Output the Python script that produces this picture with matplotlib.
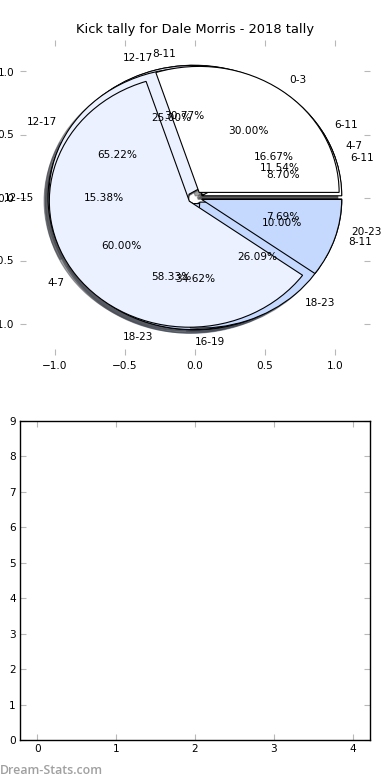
import matplotlib
matplotlib.use('Agg')
import matplotlib.pyplot as plt

title = 'Kick tally for Dale Morris - 2018 tally'

# four tallies, drawn one over the other (the last one ends up on top)
labels_d = ['4-7', '8-11', '12-15', '16-19', '20-23']
kicks_d = [3, 8, 4, 9, 2]

labels_c = ['6-11', '12-17', '18-23']
kicks_c = [2, 3, 7]

labels_b = ['6-11', '12-17', '18-23']
kicks_b = [2, 15, 6]

labels_a = ['0-3', '4-7', '8-11']
kicks_a = [3, 6, 1]

pie_colors = ['#FFFFFF', '#EBF1FF', '#C5D9FF', '#A9C7FF', '#8CB4FF']

fs = 7.6
tick_col = '#b8b8b8'

fig = plt.figure(figsize=(3.9, 7.8), dpi=100)

ax = fig.add_axes([20/390., 425/780., 350/390., 315/780.])
for labels, kicks in [(labels_d, kicks_d), (labels_c, kicks_c),
                      (labels_b, kicks_b), (labels_a, kicks_a)]:
    wedges, texts, autotexts = ax.pie(kicks, labels=labels, colors=pie_colors[:len(kicks)],
                                      explode=[0.05] * len(kicks), autopct='%.2f%%',
                                      shadow=True, startangle=0,
                                      wedgeprops={'edgecolor': 'black', 'linewidth': 0.8},
                                      textprops={'fontsize': fs})
ax.set_aspect('auto')
ax.set_frame_on(False)
ax.set_xlim(-1.25, 1.25)
ax.set_ylim(-1.25, 1.25)
ax.set_xticks([-1.0, -0.5, 0.0, 0.5, 1.0])
ax.set_yticks([-1.0, -0.5, 0.0, 0.5, 1.0])
ax.tick_params(direction='in', length=4, color=tick_col, top=True, right=True,
               labelsize=fs, pad=4)
ax.set_title(title, fontsize=9.4, pad=5)

ax2 = fig.add_axes([20/390., 40/780., 350/390., 319/780.])
ax2.set_xlim(-0.22, 4.22)
ax2.set_ylim(0, 9)
ax2.set_xticks(range(5))
ax2.set_yticks(range(10))
ax2.tick_params(direction='in', length=4, color=tick_col, top=True, right=True,
                labelsize=fs, pad=3)
for s in ax2.spines.values():
    s.set_linewidth(1.0)

fig.text(0.0, 10/780., 'Dream-Stats.com', color='#a0a0a0', fontsize=8.9,
         family='Open Sans', fontweight='semibold', ha='left', va='center')

fig.savefig('out.png', dpi=100)
